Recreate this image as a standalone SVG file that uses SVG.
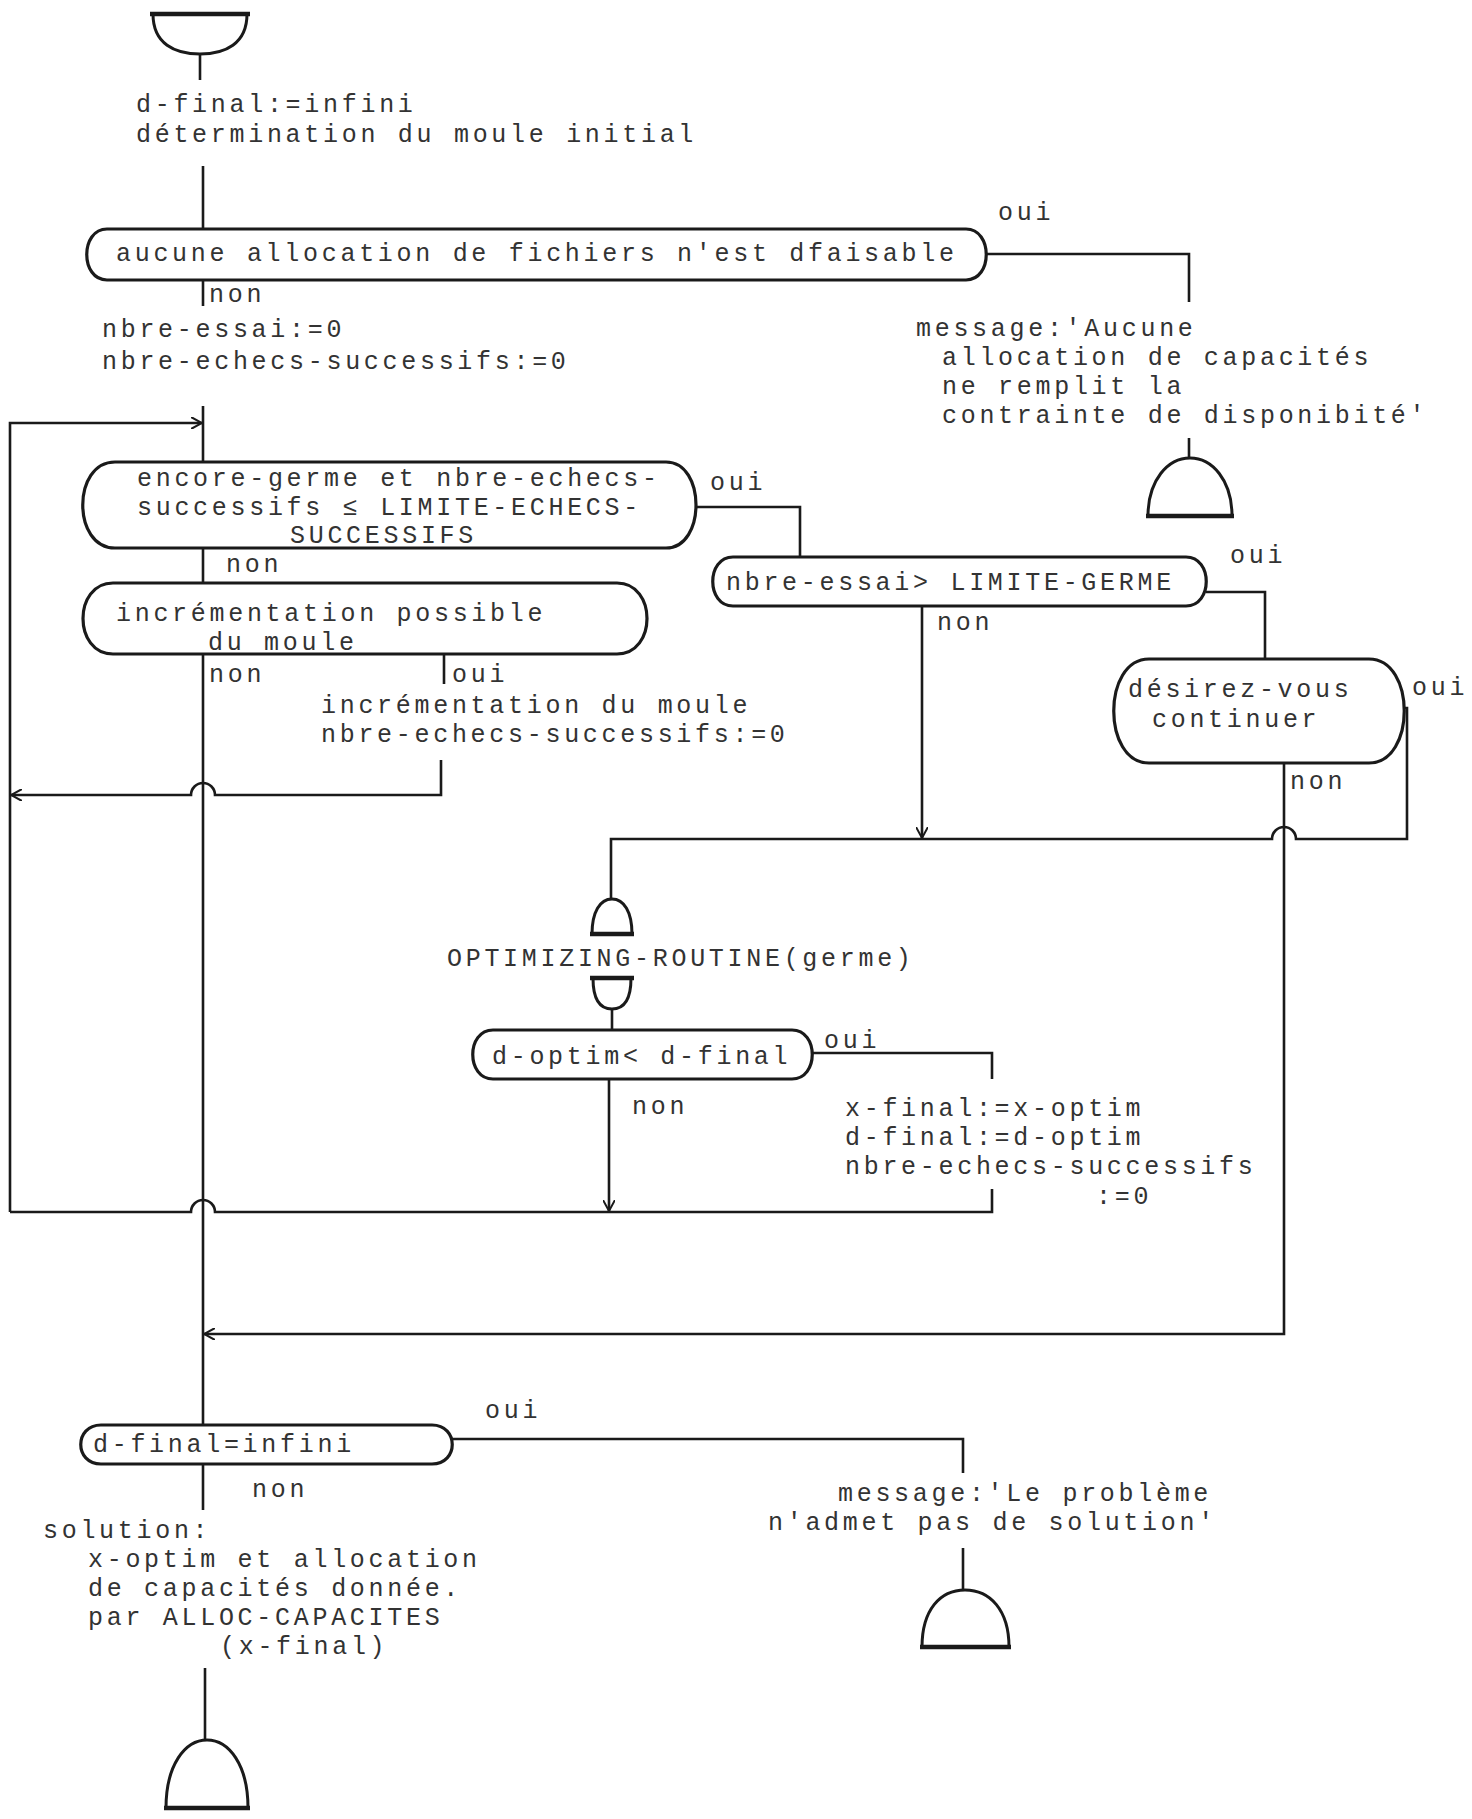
<svg xmlns="http://www.w3.org/2000/svg" width="1472" height="1819" viewBox="0 0 1472 1819">
<defs>
<style>
.t{font-family:"Liberation Mono","DejaVu Sans Mono",monospace;font-size:25px;letter-spacing:3.7px;fill:#333333}
.box{fill:none;stroke:#1a1a1a;stroke-width:3.2}
.term{fill:none;stroke:#1a1a1a;stroke-width:3}
.bar{fill:none;stroke:#1a1a1a;stroke-width:4.5}
.c{fill:none;stroke:#1a1a1a;stroke-width:2.6}
</style>
<marker id="ar" viewBox="0 0 12 12" refX="11" refY="6" markerWidth="12" markerHeight="12" markerUnits="userSpaceOnUse" orient="auto">
<path d="M0,0 L11,6 L0,12" fill="none" stroke="#1a1a1a" stroke-width="2"/>
</marker>
</defs>
<rect width="1472" height="1819" fill="#ffffff"/>

<g id="connectors">
<path class="c" d="M200 54 V80"/>
<path class="c" d="M203 166 V229"/>
<path class="c" d="M986 254 H1189 V302"/>
<path class="c" d="M1189 438 V458"/>
<path class="c" d="M203 280 V306"/>
<path class="c" d="M203 406 V462"/>
<path class="c" d="M10 1212 V423 H202" marker-end="url(#ar)"/>
<path class="c" d="M696 507 H800 V557"/>
<path class="c" d="M203 548 V583"/>
<path class="c" d="M203 654 V1425"/>
<path class="c" d="M444 654 V684"/>
<path class="c" d="M441 760 V795 H215 A12 12 0 0 0 191 795 H11" marker-end="url(#ar)"/>
<path class="c" d="M1206 592 H1265 V659"/>
<path class="c" d="M922 606 V838" marker-end="url(#ar)"/>
<path class="c" d="M1404 708 H1407 V839 H1296 A12 12 0 0 0 1272 839 H611 V899"/>
<path class="c" d="M1284 763 V1334 H204" marker-end="url(#ar)"/>
<path class="c" d="M612 1009 V1030"/>
<path class="c" d="M812 1053 H992 V1079"/>
<path class="c" d="M609 1079 V1211" marker-end="url(#ar)"/>
<path class="c" d="M992 1189 V1212 H215 A12 12 0 0 0 191 1212 H10"/>
<path class="c" d="M452 1439 H963 V1473"/>
<path class="c" d="M203 1464 V1510"/>
<path class="c" d="M963 1548 V1590"/>
<path class="c" d="M205 1668 V1740"/>
</g>

<g id="start">
<path class="bar" d="M150 14 H250"/>
<path class="term" d="M153 14 C153 44, 175 54, 200 54 C225 54, 247 44, 247 14"/>
</g>

<g id="init">
<text class="t" x="136" y="112">d-final:=infini</text>
<text class="t" x="136" y="142">détermination du moule initial</text>
</g>

<g id="q-aucune">
<path class="box" d="M107 229 H966 C993 229, 993 280, 966 280 H107 C80 280, 80 229, 107 229 Z"/>
<text class="t" x="116" y="261">aucune allocation de fichiers n'est dfaisable</text>
<text class="t" x="998" y="220">oui</text>
<text class="t" x="209" y="302">non</text>
</g>

<g id="msg-aucune">
<text class="t" x="916" y="336">message:'Aucune</text>
<text class="t" x="942" y="365">allocation de capacités</text>
<text class="t" x="942" y="394">ne remplit la</text>
<text class="t" x="942" y="423">contrainte de disponibité'</text>
</g>

<g id="end-1">
<path class="term" d="M1148 516 C1148 480, 1168 458, 1190 458 C1212 458, 1232 480, 1232 516"/>
<path class="bar" d="M1146 516 H1234"/>
</g>

<g id="init-counters">
<text class="t" x="102" y="337">nbre-essai:=0</text>
<text class="t" x="102" y="369">nbre-echecs-successifs:=0</text>
</g>

<g id="q-encore">
<path class="box" d="M115 462 H666 C706 462, 706 548, 666 548 H115 C72 548, 72 462, 115 462 Z"/>
<text class="t" x="137" y="486">encore-germe et nbre-echecs-</text>
<text class="t" x="137" y="515">successifs ≤ LIMITE-ECHECS-</text>
<text class="t" x="290" y="543">SUCCESSIFS</text>
<text class="t" x="226" y="572">non</text>
<text class="t" x="710" y="490">oui</text>
</g>

<g id="q-increment">
<path class="box" d="M113 583 H617 C657 583, 657 654, 617 654 H113 C73 654, 73 583, 113 583 Z"/>
<text class="t" x="116" y="621">incrémentation possible</text>
<text class="t" x="208" y="650">du moule</text>
<text class="t" x="209" y="682">non</text>
<text class="t" x="452" y="682">oui</text>
</g>

<g id="increment">
<text class="t" x="321" y="713">incrémentation du moule</text>
<text class="t" x="321" y="742">nbre-echecs-successifs:=0</text>
</g>

<g id="q-essai">
<path class="box" d="M733 557 H1186 C1213 557, 1213 606, 1186 606 H733 C706 606, 706 557, 733 557 Z"/>
<text class="t" x="726" y="590">nbre-essai&gt; LIMITE-GERME</text>
<text class="t" x="1230" y="563">oui</text>
<text class="t" x="937" y="630">non</text>
</g>

<g id="q-continuer">
<path class="box" d="M1149 659 H1369 C1416 659, 1416 763, 1369 763 H1149 C1102 763, 1102 659, 1149 659 Z"/>
<text class="t" x="1128" y="697">désirez-vous</text>
<text class="t" x="1152" y="727">continuer</text>
<text class="t" x="1412" y="695">oui</text>
<text class="t" x="1290" y="789">non</text>
</g>

<g id="optimizing">
<path class="term" d="M592 934 C592 912, 600 899, 612 899 C624 899, 632 912, 632 934"/>
<path class="bar" d="M590 934 H634"/>
<text class="t" x="447" y="966">OPTIMIZING-ROUTINE(germe)</text>
<path class="bar" d="M590 978 H634"/>
<path class="term" d="M593 978 C593 1000, 600 1009, 612 1009 C624 1009, 631 1000, 631 978"/>
</g>

<g id="q-optim">
<path class="box" d="M493 1030 H792 C819 1030, 819 1079, 792 1079 H493 C466 1079, 466 1030, 493 1030 Z"/>
<text class="t" x="492" y="1064">d-optim&lt; d-final</text>
<text class="t" x="824" y="1048">oui</text>
<text class="t" x="632" y="1114">non</text>
</g>

<g id="update">
<text class="t" x="845" y="1116">x-final:=x-optim</text>
<text class="t" x="845" y="1145">d-final:=d-optim</text>
<text class="t" x="845" y="1174">nbre-echecs-successifs</text>
<text class="t" x="1096" y="1204">:=0</text>
</g>

<g id="q-final">
<path class="box" d="M101 1425 H432 C459 1425, 459 1464, 432 1464 H101 C74 1464, 74 1425, 101 1425 Z"/>
<text class="t" x="93" y="1452">d-final=infini</text>
<text class="t" x="485" y="1418">oui</text>
<text class="t" x="252" y="1497">non</text>
</g>

<g id="msg-probleme">
<text class="t" x="838" y="1501">message:'Le problème</text>
<text class="t" x="768" y="1530">n'admet pas de solution'</text>
</g>

<g id="end-2">
<path class="term" d="M922 1647 C922 1610, 940 1590, 965 1590 C990 1590, 1009 1610, 1009 1647"/>
<path class="bar" d="M920 1647 H1011"/>
</g>

<g id="solution">
<text class="t" x="43" y="1538">solution:</text>
<text class="t" x="88" y="1567">x-optim et allocation</text>
<text class="t" x="88" y="1596">de capacités donnée.</text>
<text class="t" x="88" y="1625">par ALLOC-CAPACITES</text>
<text class="t" x="220" y="1654">(x-final)</text>
</g>

<g id="end-3">
<path class="term" d="M166 1808 C166 1765, 185 1740, 207 1740 C229 1740, 248 1765, 248 1808"/>
<path class="bar" d="M164 1808 H250"/>
</g>
</svg>
